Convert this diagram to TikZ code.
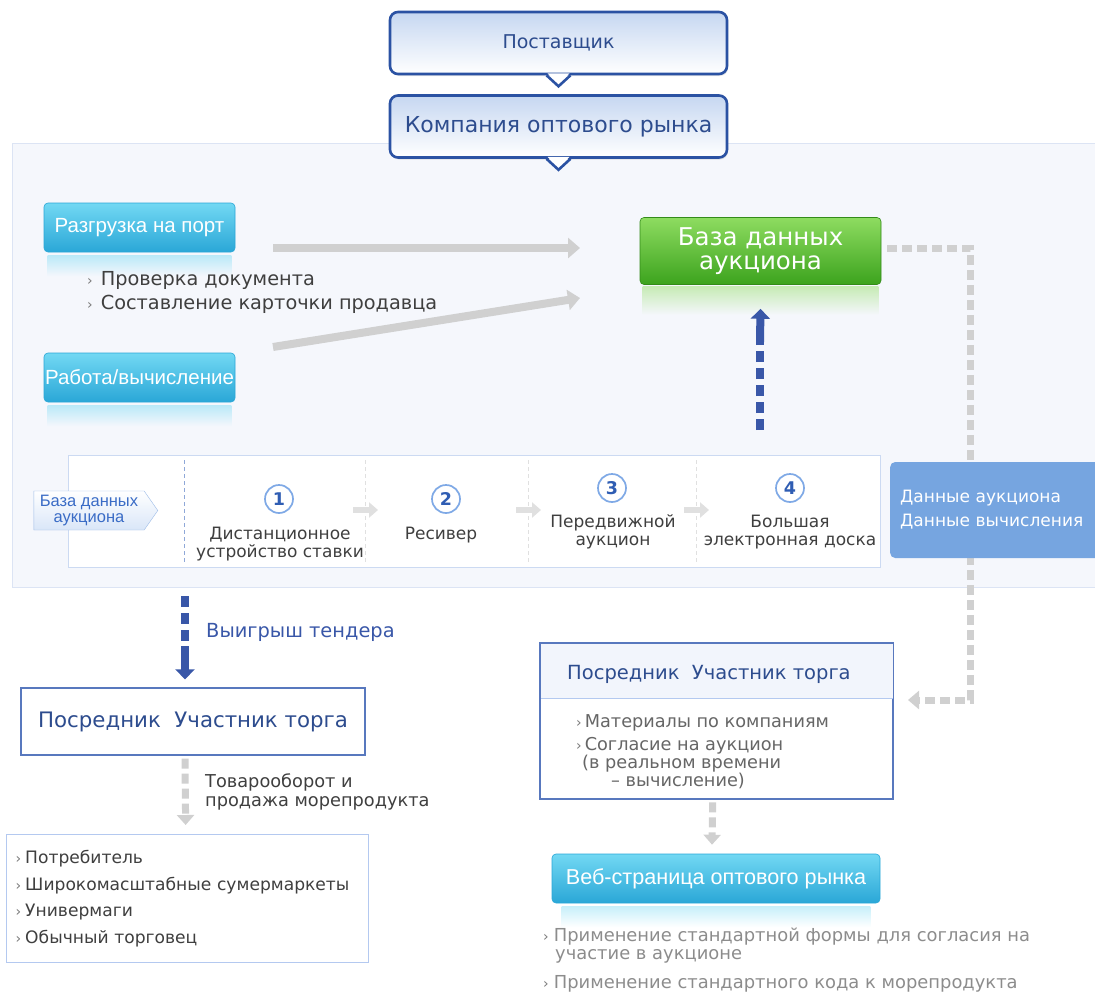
\documentclass[tikz,border=0pt]{standalone}
\usepackage{fontspec}
\setmainfont{DejaVu Sans}
\newfontfamily\btnfont{Liberation Sans}
\usetikzlibrary{arrows.meta}
\usetikzlibrary{shapes.symbols}
\usetikzlibrary{shadows}
\usetikzlibrary{calc}

\definecolor{panelbg}{HTML}{F5F7FC}
\definecolor{panelline}{HTML}{DCE4F4}
\definecolor{navy}{HTML}{2B52A3}
\definecolor{headblue}{HTML}{C6D7F1}
\definecolor{textblue}{HTML}{2D4C8E}
\definecolor{arrowgray}{HTML}{D0D0D0}
\definecolor{lightgray}{HTML}{E0E0E0}
\definecolor{bodytext}{HTML}{3F3F3F}
\definecolor{softtext}{HTML}{666666}
\definecolor{paletext}{HTML}{8C8C8C}
\definecolor{bulletgray}{HTML}{7A7A7A}
\definecolor{cyantop}{HTML}{72D8F3}
\definecolor{cyanbot}{HTML}{2AA7D7}
\definecolor{greentop}{HTML}{8EDC60}
\definecolor{greenbot}{HTML}{3CA31E}
\definecolor{datablue}{HTML}{76A5E0}
\definecolor{arrowblue}{HTML}{3957A8}
\definecolor{boxline}{HTML}{5878BE}
\definecolor{paleline}{HTML}{B4C9F0}
\definecolor{stripline}{HTML}{CCDAF2}
\definecolor{sepblue}{HTML}{8FA8D8}
\definecolor{tagtext}{HTML}{3A6CC6}
\definecolor{tagline}{HTML}{9DBCE8}
\definecolor{tagfill}{HTML}{D9E6F8}
\definecolor{circline}{HTML}{7FA9E6}
\definecolor{numblue}{HTML}{2F5DB3}
\definecolor{rheadfill}{HTML}{F2F5FC}

\newcommand{\fsz}[2]{\fontsize{#1}{#2}\selectfont}
\newcommand{\bul}[1][6pt]{{\color{bulletgray}\fsz{14}{14}›}\hspace{#1}}

\begin{document}
\begin{tikzpicture}[x=1pt,y=-1pt,>={Triangle[length=12pt,width=20pt]},
  bubble/.style={draw=navy, line width=2.6pt, rounded corners=8pt, top color=headblue, bottom color=white,
    minimum width=337, minimum height=62, text=textblue, drop shadow={shadow xshift=1pt, shadow yshift=-2pt, opacity=.2}},
  button/.style={rounded corners=4pt, top color=cyantop, bottom color=cyanbot, draw=cyanbot, line width=.6pt,
    text=white, font=\btnfont\fsz{20.5}{20.5}, minimum width=191, minimum height=49, inner sep=0},
  glow/.style={top color=#1, bottom color=panelbg, draw=none},
  dbbox/.style={rounded corners=4pt, top color=greentop, bottom color=greenbot, draw=greenbot!85!black, line width=.6pt,
    text=white, align=center, font=\fsz{24.5}{24}, minimum width=241, minimum height=67, inner sep=0},
  graybar/.style={draw=arrowgray, line width=8pt, ->},
  graydash/.style={draw=arrowgray, line width=7pt, dash pattern=on 10pt off 5pt},
  bluedash/.style={draw=arrowblue, line width=8pt, dash pattern=on 11pt off 6pt},
  bluebar/.style={draw=arrowblue, line width=8pt, -{Triangle[length=10pt,width=19pt]}},
  steparrow/.style={draw=lightgray, line width=6pt, -{Triangle[length=9pt,width=15pt]}},
  numcirc/.style={circle, draw=circline, line width=1.7pt, fill=white, minimum size=28, inner sep=0,
    text=numblue, font=\bfseries\fsz{17.5}{17.5}},
  steptext/.style={align=center, text=bodytext, font=\fsz{17}{18.5}, inner sep=0},
  tag/.style={shape=signal, signal to=east, signal pointer angle=110, draw=tagline, top color=white, bottom color=tagfill,
    text=tagtext, align=center, font=\btnfont\fsz{16.5}{16.5}, minimum height=39, inner xsep=6pt, inner ysep=1pt},
  databox/.style={anchor=west, rounded corners=5pt, fill=datablue, text=white, align=left, font=\fsz{17}{24},
    text width=195, minimum height=96, inner xsep=10},
  pbox/.style={draw=boxline, line width=1.3pt, fill=white, text=textblue},
  itembox/.style={draw=paleline, line width=1.3pt, fill=white, text=bodytext, align=left}]

\useasboundingbox (0,0) rectangle (1095,993);

% panel behind the auction part
\fill[panelbg] (12,143) rectangle (1095,588);
\draw[panelline, line width=1pt] (1095,143.5) -- (12.5,143.5) -- (12.5,587.5) -- (1095,587.5);

% top call-outs
\node[bubble, font=\fsz{19}{19}] (supplier) at (558.5,43) {Поставщик};
\fill[white] ([xshift=-11,yshift=2]supplier.south) -- ++(11,12) -- ++(11,-12) -- cycle;
\draw[navy, line width=2.6pt] ([xshift=-12]supplier.south) -- ++(12,11) -- ++(12,-11);

\node[bubble, font=\fsz{22}{22}] (company) at (558.5,126.5) {Компания оптового рынка};
\fill[white] ([xshift=-11,yshift=2]company.south) -- ++(11,12) -- ++(11,-12) -- cycle;
\draw[navy, line width=2.6pt] ([xshift=-12]company.south) -- ++(12,11) -- ++(12,-11);

% port / calculation buttons
\node[button] (unload) at (139.5,227.5) {Разгрузка на порт};
\fill[glow=cyantop!45!panelbg] ([xshift=4,yshift=-3]unload.south west) rectangle ([xshift=-4,yshift=-24]unload.south east);
\node[anchor=base west, inner sep=0, text=bodytext, font=\fsz{19.3}{19.3}] (check) at (87,285) {\bul[8pt]Проверка документа};
\node[anchor=base west, inner sep=0, text=bodytext, font=\fsz{19.3}{19.3}] (card) at (87,309) {\bul[8pt]Составление карточки продавца};

\node[button] (calc) at (139.5,377.5) {Работа/вычисление};
\fill[glow=cyantop!45!panelbg] ([xshift=4,yshift=-3]calc.south west) rectangle ([xshift=-4,yshift=-24]calc.south east);

% auction database
\node[dbbox] (db) at (760.5,251) {База данных\\аукциона};
\fill[glow=greentop!45!panelbg] ([xshift=3,yshift=-2]db.south west) rectangle ([xshift=-3,yshift=-30]db.south east);

\coordinate (u1) at (273,248);
\coordinate (u2) at (580,248);
\coordinate (w1) at (273,347);
\coordinate (w2) at (580,298);
\draw[graybar] (u1) -- (u2);
\draw[graybar] (w1) -- (w2);

\coordinate (up1) at (760,430);
\coordinate (up2) at (760,342);
\draw[bluedash] (up1) -- (up2);
\draw[bluebar] (up2) -- ([yshift=-24]db.south);

% strip with the four steps
\node[draw=stripline, fill=white, line width=1pt, anchor=north west, minimum width=812, minimum height=112, inner sep=0] (strip) at (68,455) {};
\node[tag] (tagdb) at (89,510.5) {База данных\\аукциона};

\draw[draw=sepblue, line width=.8pt, dash pattern=on 4pt off 3pt] (184,460) -- (184,562);
\foreach \x/\n in {365/2,528/3,696/4} {
  \draw[draw=lightgray, line width=.8pt, dash pattern=on 4pt off 3pt] (\x,460) -- (\x,562);
  \coordinate (sep\n) at (\x,510);
  \draw[steparrow] ([xshift=-12]sep\n) -- ([xshift=13]sep\n);
}

\node[numcirc] (n1) at (279,499) {1};
\node[numcirc] (n2) at (446,499) {2};
\node[numcirc] (n3) at (612,488) {3};
\node[numcirc] (n4) at (790,488) {4};
\node[steptext] (s1) at (280,544) {Дистанционное\\устройство ставки};
\node[steptext] (s2) at (441,535) {Ресивер};
\node[steptext] (s3) at (613,532) {Передвижной\\аукцион};
\node[steptext] (s4) at (790,532) {Большая\\электронная доска};

% data link to the bidders on the right
\draw[graydash, -{Triangle[length=11pt,width=18pt]}] ([xshift=6,yshift=3]db.east) -- (970,248) -- (970,700) -- (908,700);
\node[databox] (data) at (890,510) {Данные аукциона\\Данные вычисления};

% winning bid
\node[pbox, minimum width=344, minimum height=67, font=\fsz{21.3}{21.3}] (buyer) at (193,721.5) {Посредник\ \ Участник торга};
\coordinate (t1) at (185,596);
\coordinate (t2) at (185,646);
\draw[bluedash] (t1) -- (t2);
\draw[bluebar] (t2) -- ([xshift=-8,yshift=8]buyer.north);
\node[anchor=west, inner sep=0, text=arrowblue, font=\fsz{19.4}{19.4}] (win) at (206,632) {Выигрыш тендера};

\node[itembox, anchor=north west, text width=344, minimum height=128, inner xsep=9, font=\fsz{17.1}{26.6}] (cons) at (6,834)
  {\bul[4pt]Потребитель\\\bul[4pt]Широкомасштабные сумермаркеты\\\bul[4pt]Универмаги\\\bul[4pt]Обычный торговец};
\draw[graydash, -{Triangle[length=10pt,width=17pt]}] ([xshift=-8,yshift=-3]buyer.south) -- ([xshift=-2,yshift=9]cons.north);
\node[anchor=west, inner sep=0, align=left, text=bodytext, font=\fsz{17.75}{19}] (trade) at (205,792) {Товарооборот и\\продажа морепродукта};

% bidder box on the right
\node[pbox, anchor=north west, minimum width=352, minimum height=155, inner sep=0] (rbox) at (540,643) {};
\fill[rheadfill] ([xshift=.7,yshift=-.7]rbox.north west) rectangle ([xshift=-.7,yshift=-55]rbox.north east);
\draw[paleline, line width=1pt] ([yshift=-55]rbox.north west) -- ([yshift=-55]rbox.north east);
\draw[boxline, line width=1.3pt] (rbox.north west) rectangle (rbox.south east);
\node[anchor=west, inner sep=0, text=textblue, font=\fsz{19.5}{19.5}] (rhead) at (567,674) {Посредник\ \ Участник торга};
\node[anchor=west, inner sep=0, text=softtext, font=\fsz{17.7}{17.7}] (mat) at (576,723) {\bul[3pt]Материалы по компаниям};
\node[anchor=west, inner sep=0, align=left, text=softtext, font=\fsz{17.7}{16.5}] (agree) at (576,763)
  {\bul[3pt]Согласие на аукцион\\\hspace*{6pt}(в реальном времени\\\hspace*{35pt}– вычисление)};

% web page
\node[button, minimum width=328, font=\btnfont\fsz{21.6}{21.6}] (web) at (716,878.5) {Веб-страница оптового рынка};
\fill[glow=cyantop!40!white, bottom color=white] ([xshift=10,yshift=-3]web.south west) rectangle ([xshift=-10,yshift=-24]web.south east);
\draw[graydash, -{Triangle[length=10pt,width=17pt]}] ([xshift=-4,yshift=-3]rbox.south) -- ([xshift=-4,yshift=9]web.north);
\node[anchor=west, inner sep=0, align=left, text=paletext, font=\fsz{17.9}{18}] (std1) at (543,946)
  {\bul[5pt]Применение стандартной формы для согласия на\\\hspace*{12pt}участие в аукционе};
\node[anchor=west, inner sep=0, text=paletext, font=\fsz{17.9}{17.9}] (std2) at (543,984) {\bul[5pt]Применение стандартного кода к морепродукта};

\end{tikzpicture}
\end{document}
